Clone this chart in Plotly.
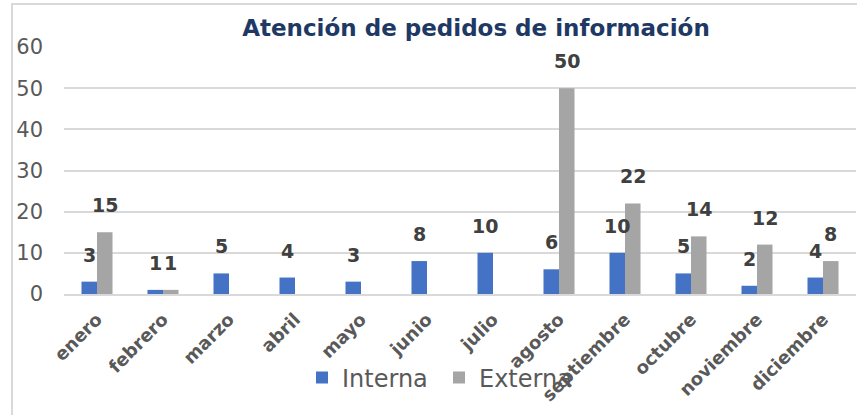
import plotly.graph_objects as go

months = ["enero", "febrero", "marzo", "abril", "mayo", "junio", "julio",
          "agosto", "septiembre", "octubre", "noviembre", "diciembre"]
interna = [3, 1, 5, 4, 3, 8, 10, 6, 10, 5, 2, 4]
externa = [15, 1, None, None, None, None, None, 50, 22, 14, 12, 8]
y_ticks = [0, 10, 20, 30, 40, 50, 60]

FONT = "DejaVu Sans"
BLUE = "#4472C4"
GRAY = "#A5A5A5"

fig = go.Figure()
fig.add_trace(go.Bar(name="Interna", x=months, y=interna, marker_color=BLUE,
                     marker_line_width=0))
fig.add_trace(go.Bar(name="Externa", x=months, y=externa, marker_color=GRAY,
                     marker_line_width=0))

annotations = []
half_bar = 7.7
for series, shift in ((interna, -half_bar), (externa, half_bar)):
    for m, v in zip(months, series):
        if v is None:
            continue
        annotations.append(dict(x=m, y=v, xref="x", yref="y", text=str(v),
                                showarrow=False, xshift=shift, yshift=14,
                                yanchor="bottom",
                                font=dict(family=FONT, size=19, color="#404040",
                                          weight="bold")))

fig.update_layout(
    width=857, height=415,
    margin=dict(l=64, r=1, t=47, b=121),
    paper_bgcolor="white", plot_bgcolor="white",
    barmode="group", bargap=0.53, bargroupgap=0,
    title=dict(text="<b>Atención de pedidos de información</b>",
               x=476 / 857, xref="container", xanchor="center",
               y=1 - 28 / 415, yref="container", yanchor="middle",
               font=dict(family=FONT, size=23, color="#203864")),
    xaxis=dict(tickangle=-45, showgrid=False, showline=True, linecolor="#D9D9D9",
               linewidth=1.5, ticks="", automargin=False, ticklabelstandoff=6,
               tickfont=dict(family=FONT, size=18, color="#595959", weight="bold")),
    yaxis=dict(range=[0, 60], tickvals=y_ticks, showgrid=True, gridcolor="#D9D9D9",
               gridwidth=1.5, zeroline=False, showline=False, ticklabelstandoff=20,
               automargin=False,
               tickfont=dict(family=FONT, size=21, color="#595959")),
    legend=dict(orientation="h", x=(302 - 64) / 792, xanchor="left",
                y=(294 - 378) / 247, yanchor="middle", bgcolor="rgba(0,0,0,0)",
                font=dict(family=FONT, size=24, color="#595959"),
                entrywidth=92, entrywidthmode="pixels"),
    annotations=annotations,
    shapes=[dict(type="rect", xref="paper", yref="paper",
                 x0=(12 - 64) / 792, x1=(870 - 64) / 792,
                 y0=(294 - 430) / 247, y1=(294 - 4) / 247,
                 line=dict(color="#D9D9D9", width=2), layer="below")],
)

fig.write_html("out.html", config={"displayModeBar": False},
               post_script="document.body.style.margin='0';")
